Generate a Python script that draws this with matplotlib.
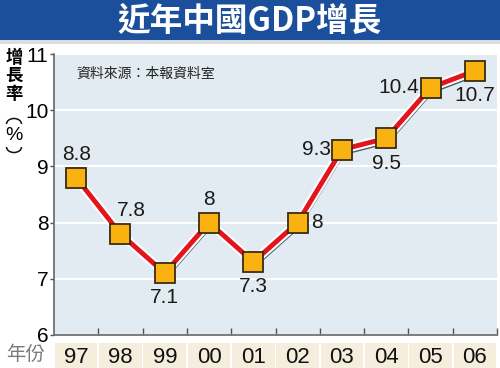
import matplotlib
matplotlib.use("Agg")
import matplotlib.pyplot as plt
import matplotlib.transforms as mtrans
from matplotlib.patches import Rectangle, Arc

plt.rcParams['font.family'] = ['Liberation Sans', 'Noto Sans CJK TC', 'DejaVu Sans']

years = ['97', '98', '99', '00', '01', '02', '03', '04', '05', '06']
growth = [8.8, 7.8, 7.1, 8.0, 7.3, 8.0, 9.3, 9.5, 10.4, 10.7]
value_labels = ['8.8', '7.8', '7.1', '8', '7.3', '8', '9.3', '9.5', '10.4', '10.7']
label_pos = ['above', 'aboveright', 'below', 'above', 'below', 'right', 'left', 'below', 'left', 'below']
yticks = [6, 7, 8, 9, 10, 11]

W, H = 500, 368
fig = plt.figure(figsize=(W / 100, H / 100), dpi=100)
fig.patch.set_facecolor('white')
CJK = ['Noto Sans CJK TC', 'DejaVu Sans']

def px(x0, y0, x1, y1):
    return [x0 / W, 1 - y1 / H, (x1 - x0) / W, (y1 - y0) / H]

# Title bar
fig.patches.append(Rectangle((0, 1 - 40 / H), 1, 40 / H, transform=fig.transFigure,
                             facecolor='#1b4f9b', edgecolor='none', zorder=0))
fig.patches.append(Rectangle((0, 1 - 44 / H), 1, 4 / H, transform=fig.transFigure,
                             facecolor='#d9dde2', edgecolor='none', zorder=0))
fig.text(0.5, 1 - 21 / H, '近年中國GDP增長', color='white', fontsize=23.5, fontweight=900,
         ha='center', va='center', family=CJK)

# Main axes
ax = fig.add_axes(px(54, 54, 497, 335))
ax.set_facecolor('#e2ebf2')
x = list(range(len(years)))
ax.set_xlim(-0.5, len(years) - 0.5)
ax.set_ylim(6, 11)
ax.set_yticks(yticks)
ax.set_yticklabels([str(t) for t in yticks], fontsize=15)
ax.tick_params(axis='y', length=3, width=1, color='#555555', pad=1, direction='out')
ax.set_xticks([i - 0.5 for i in range(1, len(years) + 1)])
ax.set_xticklabels([])
ax.tick_params(axis='x', length=5, width=1, color='#555555', direction='in')
for s in ['top', 'right']:
    ax.spines[s].set_visible(False)
for s in ['left', 'bottom']:
    ax.spines[s].set_color('#666666')
    ax.spines[s].set_linewidth(1.2)
ax.grid(axis='y', color='white', linewidth=1.5)
ax.set_axisbelow(True)

shadow = mtrans.offset_copy(ax.transData, fig=fig, x=1.5, y=-4.5, units='dots')
ax.plot(x, growth, color='#3f5868', linewidth=1.6, transform=shadow, zorder=2)
ax.plot(x, growth, color='white', linewidth=6.5, zorder=3, solid_joinstyle='miter')
ax.plot(x, growth, color='#e3141b', linewidth=3.5, zorder=4, solid_joinstyle='miter')
ax.plot(x, growth, linestyle='none', marker='s', markersize=14, markerfacecolor='#f9b20f',
        markeredgecolor='#3a2b12', markeredgewidth=1.3, zorder=5)

offsets = {'above': (0, 10, 'center', 'bottom'), 'below': (0, -11, 'center', 'top'),
           'left': (-8, 0, 'right', 'center'), 'right': (10, 0, 'left', 'center'),
           'aboveright': (8, 10, 'center', 'bottom')}
for xi, yi, lab, pos in zip(x, growth, value_labels, label_pos):
    dx, dy, ha, va = offsets[pos]
    ax.annotate(lab, (xi, yi), xytext=(dx, dy), textcoords='offset points',
                ha=ha, va=va, fontsize=15, color='#1a1a1a', zorder=6)

ax.text(0.05, 0.93, '資料來源：本報資料室', transform=ax.transAxes, fontsize=10,
        color='#222222', ha='left', va='center', family=CJK)

# Y label (vertical text)
fig.text(14 / W, 1 - 76 / H, '增\n長\n率', fontsize=12.5, fontweight='bold', ha='center', va='center',
         linespacing=1.0, family=CJK)
fig.text(14 / W, 1 - 135 / H, '%', fontsize=14, ha='center', va='center')
lax = fig.add_axes(px(0, 100, 30, 170))
lax.set_xlim(0, 30)
lax.set_ylim(H - 170, H - 100)
lax.axis('off')
lax.add_patch(Arc((14, H - 124), 15, 11, theta1=0, theta2=180, color='#111111', linewidth=1.1))
lax.add_patch(Arc((14, H - 147), 15, 11, theta1=180, theta2=360, color='#111111', linewidth=1.1))

# X label band
bx = fig.add_axes(px(54, 343, 497, 368))
bx.set_xlim(-0.5, len(years) - 0.5)
bx.set_ylim(0, 1)
bx.axis('off')
for xi, yr in zip(x, years):
    bx.add_patch(Rectangle((xi - 0.5 + 0.02, 0), 0.96, 1, facecolor='#f6eedd', edgecolor='none'))
    bx.text(xi, 0.42, yr, ha='center', va='center', fontsize=16, color='#111111')
fig.text(26 / W, 1 - 355 / H, '年份', fontsize=14, color='#7a7a7a', ha='center', va='center',
         family=CJK)

fig.savefig('out.png', dpi=100, facecolor='white')
